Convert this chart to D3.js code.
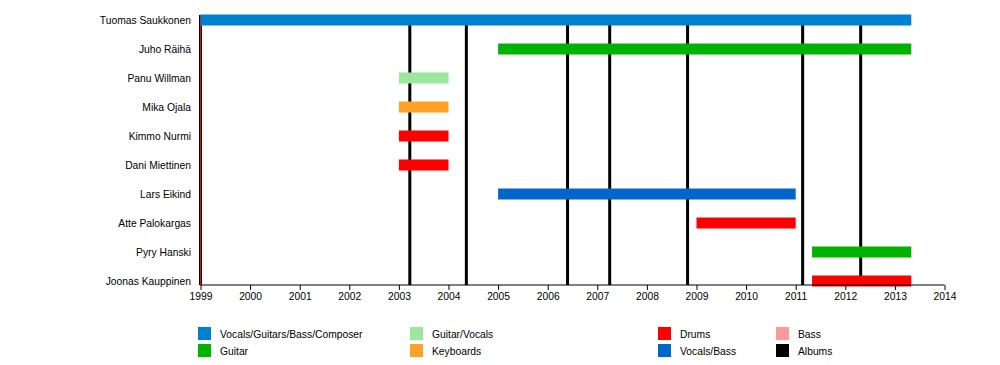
<!DOCTYPE html>
<html>
<head>
<meta charset="utf-8">
<script src="https://cdn.jsdelivr.net/npm/d3@7"></script>
<style>
  body { margin: 0; background: #fff; }
  text { font-family: "Liberation Sans", Arial, Helvetica, sans-serif; font-size: 10.3px; fill: #000; }
</style>
</head>
<body>
<svg id="chart"></svg>
<script>
const width = 1000;
const height = 365;

// Band members, top to bottom
const members = ["Tuomas Saukkonen", "Juho Räihä", "Panu Willman", "Mika Ojala", "Kimmo Nurmi",
    "Dani Miettinen", "Lars Eikind", "Atte Palokargas", "Pyry Hanski", "Joonas Kauppinen"];

// Roles with their colours (legend order)
const roles = ["Vocals/Guitars/Bass/Composer", "Guitar", "Guitar/Vocals", "Keyboards",
    "Drums", "Vocals/Bass", "Bass", "Albums"];
const roleColors = ["#0080d0", "#00b300", "#9de69d", "#ffa126", "#ff0000", "#0066cc", "#ff9999", "#000000"];

// Membership periods: [member, role, start, end]
const periods = [
    ["Tuomas Saukkonen", "Vocals/Guitars/Bass/Composer", 1999, 2013.33],
    ["Juho Räihä", "Guitar", 2005, 2013.33],
    ["Panu Willman", "Guitar/Vocals", 2003, 2004],
    ["Mika Ojala", "Keyboards", 2003, 2004],
    ["Kimmo Nurmi", "Drums", 2003, 2004],
    ["Dani Miettinen", "Drums", 2003, 2004],
    ["Lars Eikind", "Vocals/Bass", 2005, 2011],
    ["Atte Palokargas", "Drums", 2009, 2011],
    ["Pyry Hanski", "Guitar", 2011.33, 2013.33],
    ["Joonas Kauppinen", "Drums", 2011.33, 2013.33]
];

// Album release dates (vertical lines)
const albums = [1999, 2003.22, 2004.36, 2006.40, 2007.25, 2008.82, 2011.14, 2012.31];
const startMarker = [1999];

const yearTicks = d3.range(1999, 2015);

const svg = d3.select("#chart")
    .attr("width", width)
    .attr("height", height);

const x = d3.scaleLinear()
    .domain([1999, 2014])
    .range([200.5, 944.5]);

const y = d3.scalePoint()
    .domain(members)
    .range([20, 281]);

const color = d3.scaleOrdinal()
    .domain(roles)
    .range(roleColors);

const plotTop = 15;
const plotBottom = 285;
const barH = 11;

// album lines (behind bars)
svg.append("g").selectAll("line")
    .data(albums)
    .enter().append("line")
    .attr("x1", d => x(d))
    .attr("x2", d => x(d))
    .attr("y1", plotTop)
    .attr("y2", plotBottom)
    .attr("stroke", color("Albums"))
    .attr("stroke-width", 3);

svg.append("g").selectAll("line")
    .data(startMarker)
    .enter().append("line")
    .attr("x1", d => x(d))
    .attr("x2", d => x(d))
    .attr("y1", plotTop)
    .attr("y2", plotBottom)
    .attr("stroke", "#ff0000")
    .attr("stroke-width", 1);

// member bars
svg.append("g").selectAll("rect")
    .data(periods)
    .enter().append("rect")
    .attr("x", d => x(d[2]))
    .attr("width", d => x(d[3]) - x(d[2]))
    .attr("y", d => y(d[0]) - barH / 2)
    .attr("height", barH)
    .attr("fill", d => color(d[1]));

// member names
svg.append("g").selectAll("text")
    .data(members)
    .enter().append("text")
    .attr("x", 191)
    .attr("y", d => y(d))
    .attr("dy", "0.35em")
    .attr("text-anchor", "end")
    .text(d => d);

// time axis
const axis = svg.append("g")
    .attr("transform", `translate(0,${plotBottom})`)
    .call(d3.axisBottom(x).tickValues(yearTicks).tickFormat(d3.format("d")).tickSize(5).tickPadding(3));
axis.select(".domain").attr("stroke", "#000").attr("d", `M${x(1999)},0H${x(2014)}`);
axis.selectAll(".tick line").attr("stroke", "#000");
axis.selectAll(".tick text")
    .style("font-family", '"Liberation Sans", Arial, sans-serif')
    .style("font-size", "10.3px");

// legend
const legendCols = [198, 410, 658, 776];
const legendRows = [327, 344];
const legend = svg.append("g").selectAll("g")
    .data(roles)
    .enter().append("g")
    .attr("transform", (d, i) => `translate(${legendCols[Math.floor(i / 2)]},${legendRows[i % 2]})`);

legend.append("rect")
    .attr("width", 13)
    .attr("height", 13)
    .attr("fill", d => color(d));

legend.append("text")
    .attr("x", 22)
    .attr("y", 7)
    .attr("dy", "0.35em")
    .text(d => d);
</script>
</body>
</html>
